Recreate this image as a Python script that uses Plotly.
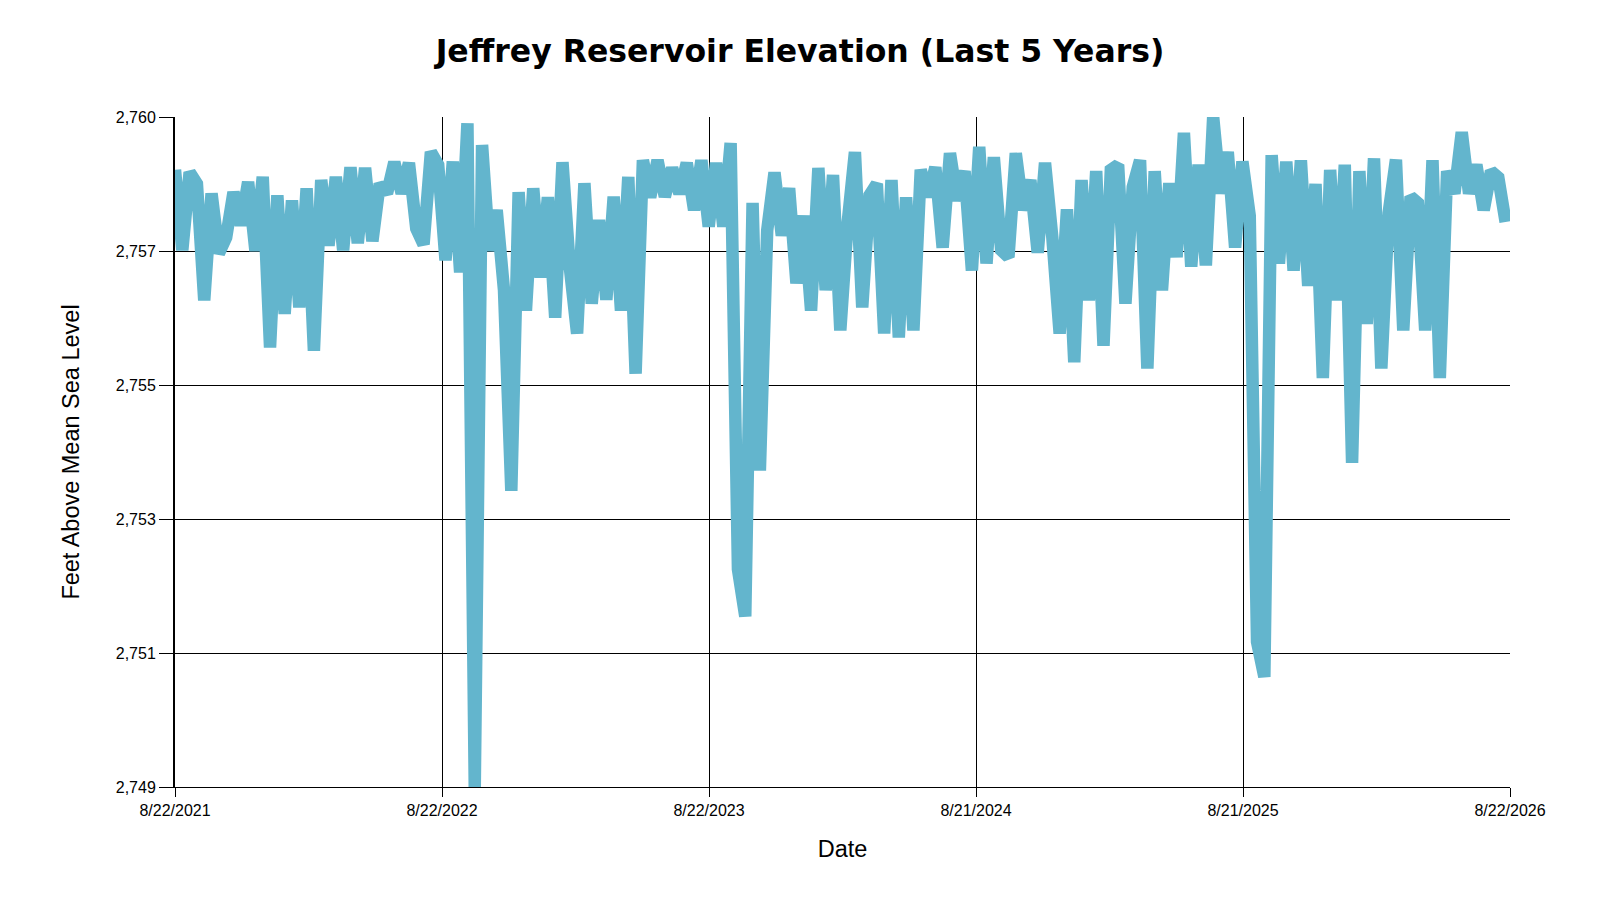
import numpy as np
import pandas as pd
import plotly.graph_objects as go

# Elevation readings, every 10 days from 8/22/2021 (feet above MSL)
start_date = "2021-08-22"
step = "10D"
elevation = [
    2758.72, 2757.46, 2758.68, 2758.50, 2756.67, 2758.35, 2757.41, 2757.66, 2758.37, 2757.85,
    2758.53, 2757.45, 2758.61, 2755.93, 2758.32, 2756.46, 2758.24, 2756.56, 2758.43, 2755.88,
    2758.56, 2757.53, 2758.61, 2757.46, 2758.76, 2757.57, 2758.75, 2757.60, 2758.50, 2758.35,
    2758.84, 2758.35, 2758.83, 2757.80, 2757.55, 2759.00, 2758.80, 2757.30, 2758.85, 2757.11,
    2759.45, 2749.03, 2759.11, 2757.45, 2758.09, 2756.83, 2753.68, 2758.37, 2756.51, 2758.43,
    2757.03, 2758.29, 2756.40, 2758.84, 2757.19, 2756.15, 2758.51, 2756.62, 2757.93, 2756.68,
    2758.30, 2756.51, 2758.61, 2755.52, 2758.87, 2758.29, 2758.87, 2758.30, 2758.75, 2758.35,
    2758.83, 2758.09, 2758.87, 2757.83, 2758.83, 2757.83, 2759.14, 2752.45, 2751.71, 2758.20,
    2754.00, 2757.77, 2758.68, 2757.69, 2758.43, 2756.94, 2758.00, 2756.51, 2758.75, 2756.83,
    2758.64, 2756.20, 2757.88, 2759.00, 2756.56, 2758.32, 2758.50, 2756.15, 2758.56, 2756.09,
    2758.29, 2756.20, 2758.72, 2758.30, 2758.76, 2757.50, 2758.98, 2758.24, 2758.70, 2757.14,
    2759.08, 2757.25, 2758.92, 2757.46, 2757.35, 2758.98, 2758.09, 2758.56, 2757.42, 2758.83,
    2757.66, 2756.15, 2758.10, 2755.70, 2758.56, 2756.67, 2758.70, 2755.96, 2758.72, 2758.80,
    2756.62, 2758.45, 2758.87, 2755.60, 2758.70, 2756.83, 2758.51, 2757.35, 2759.30, 2757.20,
    2758.80, 2757.22, 2759.55, 2758.35, 2759.00, 2757.50, 2758.85, 2758.00, 2751.31, 2750.76,
    2758.95, 2757.25, 2758.85, 2757.14, 2758.87, 2756.90, 2758.50, 2755.45, 2758.72, 2756.67,
    2758.80, 2754.12, 2758.70, 2756.30, 2758.90, 2755.60, 2758.04, 2758.88, 2756.20, 2758.30,
    2758.20, 2756.20, 2758.87, 2755.45, 2758.70, 2758.35, 2759.31, 2758.35, 2758.80, 2758.09,
    2758.70, 2758.60, 2757.90,
]

x_start = "2021-08-22"
x_end = "2026-08-22"
x_ticktext = ["8/22/2021", "8/22/2022", "8/22/2023", "8/21/2024", "8/21/2025", "8/22/2026"]

dates = pd.date_range(start_date, periods=len(elevation), freq=step)

y_lo, y_hi = min(elevation), max(elevation)
y_ticks = np.linspace(y_lo, y_hi, 6)
y_ticktext = [f"{round(v):,}" for v in y_ticks]

t0, t1 = pd.Timestamp(x_start), pd.Timestamp(x_end)
x_ticks = [t0 + (t1 - t0) * k / 5 for k in range(6)]

FONT = "Liberation Sans, Arial, sans-serif"

fig = go.Figure()
fig.add_trace(go.Scatter(
    x=dates, y=elevation, mode="lines",
    line=dict(color="rgb(99,181,205)", width=12.5),
    hoverinfo="x+y", showlegend=False,
))

# the page body adds an 8px offset, margins below account for it
fig.update_layout(
    width=1600, height=900,
    paper_bgcolor="white", plot_bgcolor="white",
    margin=dict(l=167, r=98, t=109, b=121),
    font=dict(family=FONT, color="black"),
    title=dict(
        text="<b>Jeffrey Reservoir Elevation (Last 5 Years)</b>",
        x=0.495, xanchor="center", y=1 - 43 / 900, yanchor="middle",
        font=dict(size=31.5, family="DejaVu Sans, sans-serif", color="black"),
    ),
    xaxis=dict(
        range=[t0, t1], tickvals=x_ticks, ticktext=x_ticktext,
        showgrid=True, gridcolor="black", gridwidth=1,
        showline=True, linecolor="black", linewidth=1,
        ticks="outside", ticklen=9, tickcolor="black",
        tickfont=dict(size=16), zeroline=False,
        title=dict(text="Date", font=dict(size=23.5), standoff=22),
    ),
    yaxis=dict(
        range=[y_lo, y_hi], tickvals=y_ticks, ticktext=y_ticktext,
        showgrid=True, gridcolor="black", gridwidth=1,
        showline=True, linecolor="black", linewidth=2,
        ticks="outside", ticklen=14, tickcolor="black",
        tickfont=dict(size=16), zeroline=False,
        title=dict(text="Feet Above Mean Sea Level", font=dict(size=23.5), standoff=30),
    ),
)

fig.write_html("out.html")
